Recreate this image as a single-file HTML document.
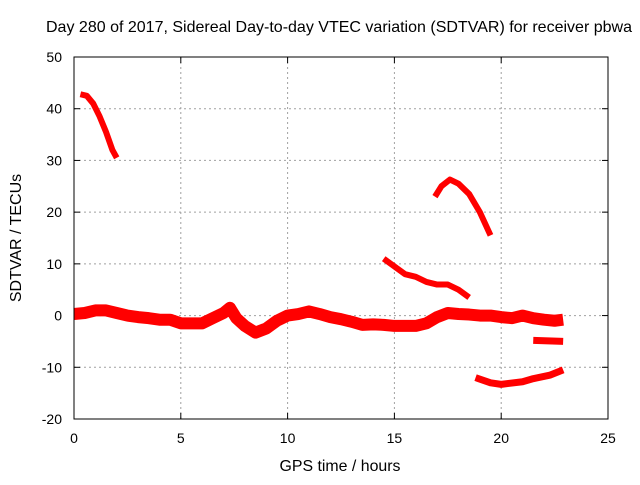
<!DOCTYPE html>
<html><head><meta charset="utf-8"><style>
body{margin:0;background:#fff}
text{font-family:"Liberation Sans",sans-serif;fill:#000}
</style></head><body>
<svg id="chart" width="640" height="480" xmlns="http://www.w3.org/2000/svg">
<text x="339" y="32" font-size="16" text-anchor="middle" textLength="586" lengthAdjust="spacingAndGlyphs">Day 280 of 2017, Sidereal Day-to-day VTEC variation (SDTVAR) for receiver pbwa</text>
<g id="grid"></g><g id="ticks"></g><g id="series"></g>
<rect x="74" y="57" width="534" height="362" fill="none" stroke="#000" stroke-width="1"/>
<text x="340" y="471" font-size="16" text-anchor="middle" textLength="121" lengthAdjust="spacingAndGlyphs">GPS time / hours</text>
<text transform="translate(21,238) rotate(-90)" font-size="16" text-anchor="middle">SDTVAR / TECUs</text>
</svg>
<script>
const xTicks=[0,5,10,15,20,25];
const yTicks=[-20,-10,0,10,20,30,40,50];
const segA=[[0.3,42.8],[0.6,42.5],[0.9,41],[1.2,38.5],[1.5,35.5],[1.8,32],[2.0,30.5]];
const segMain=[[0,0.3],[0.5,0.5],[1,1],[1.5,1],[2,0.5],[2.5,0],[3,-0.3],[3.5,-0.5],[4,-0.8],[4.5,-0.8],[5,-1.5],[5.5,-1.5],[6,-1.5],[6.5,-0.5],[7,0.5],[7.3,1.5],[7.6,-0.5],[8,-2],[8.5,-3.3],[9,-2.5],[9.5,-1],[10,0],[10.5,0.3],[11,0.8],[11.5,0.3],[12,-0.3],[12.5,-0.7],[13,-1.2],[13.5,-1.8],[14,-1.7],[14.5,-1.8],[15,-2],[15.5,-2],[16,-2],[16.5,-1.5],[17,-0.3],[17.5,0.5],[18,0.3],[18.5,0.2],[19,0],[19.5,0],[20,-0.3],[20.5,-0.5],[21,0],[21.5,-0.5],[22,-0.8],[22.5,-1],[22.9,-0.8]];
const segC=[[14.5,11],[15,9.5],[15.5,8],[16,7.5],[16.5,6.5],[17,6],[17.5,6],[18,5],[18.5,3.5]];
const segD=[[16.9,23],[17.2,25],[17.6,26.3],[18,25.5],[18.5,23.5],[19,20],[19.5,15.5]];
const segE=[[18.8,-12],[19.5,-13],[20,-13.3],[21,-12.8],[21.5,-12.2],[22.3,-11.5],[22.9,-10.5]];
const segF=[[21.5,-4.8],[22.9,-5]];
const NS="http://www.w3.org/2000/svg";
const X=h=>74+h*534/25, Y=v=>57+(50-v)*362/70;
function mk(t,a,p){const e=document.createElementNS(NS,t);for(const k in a)e.setAttribute(k,a[k]);p.appendChild(e);return e;}
const grid=document.getElementById('grid'),ticks=document.getElementById('ticks'),ser=document.getElementById('series');
xTicks.forEach(t=>{
 if(t>0&&t<25){const l=mk('line',{x1:X(t),x2:X(t),y1:57,y2:419,stroke:'#a0a0a0','stroke-dasharray':'2,3'},grid);
 }
 const tl=mk('text',{x:X(t),y:443,'font-size':'14','text-anchor':'middle'},ticks);tl.textContent=t;
 
 mk('line',{x1:X(t),x2:X(t),y1:419,y2:413,stroke:'#000'},ticks);mk('line',{x1:X(t),x2:X(t),y1:57,y2:63,stroke:'#000'},ticks);
});
yTicks.forEach(t=>{
 if(t>-20&&t<50){const l=mk('line',{x1:74,x2:608,y1:Y(t),y2:Y(t),stroke:'#a0a0a0','stroke-dasharray':'2,3'},grid);
 }
 const tl=mk('text',{x:62,y:Y(t)+5,'font-size':'14','text-anchor':'end'},ticks);tl.textContent=t;
 
 mk('line',{x1:74,x2:80,y1:Y(t),y2:Y(t),stroke:'#000'},ticks);mk('line',{x1:602,x2:608,y1:Y(t),y2:Y(t),stroke:'#000'},ticks);
});
[[segA,6,'arc-a'],[segMain,12,'arc-main'],[segC,6,'arc-c'],[segD,6,'arc-d'],[segE,7,'arc-e'],[segF,7,'arc-f']].forEach(([s,w,n])=>{
 const p=mk('polyline',{points:s.map(d=>X(d[0])+','+Y(d[1])).join(' '),fill:'none',stroke:'#f00','stroke-width':w,'stroke-linejoin':'round','stroke-linecap':'butt'},ser);
 
 
});
</script>
</body></html>
